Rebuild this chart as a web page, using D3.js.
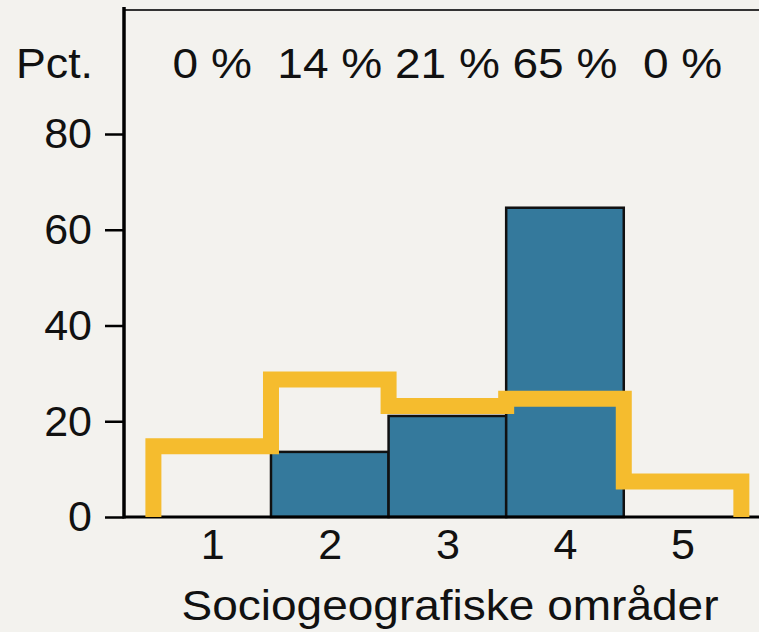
<!DOCTYPE html>
<html>
<head>
<meta charset="utf-8">
<script src="https://cdn.jsdelivr.net/npm/d3@7"></script>
<style>
  html, body { margin: 0; padding: 0; background: #f3f2ee; }
  svg { display: block; font-family: "Liberation Sans", Arial, Helvetica, sans-serif; }
</style>
</head>
<body>
<div id="chart"></div>
<script>
// data
const areas = [1, 2, 3, 4, 5];
const sharePct = [0, 13.6, 21.1, 64.6, 0];      // blue bars
const shareLabels = ["0 %", "14 %", "21 %", "65 %", "0 %"];
const refLevels = [14.8, 28.7, 23.2, 24.7, 7.4]; // yellow step line
const yTicks = [0, 20, 40, 60, 80];

const width = 759, height = 632;
const plotLeft = 124, plotBottom = 517, plotTop = 134;

const svg = d3.select('#chart').append('svg')
    .attr('width', width)
    .attr('height', height);

const xScale = d3.scaleLinear()
    .domain([0.25, 5.65])
    .range([plotLeft, width]);

const yScale = d3.scaleLinear()
    .domain([0, 80])
    .range([plotBottom, plotTop]);

const barW = xScale(1.5) - xScale(0.5);

// bars
svg.append('g').selectAll('rect')
    .data(areas.filter((d, i) => sharePct[i] > 0))
    .join('rect')
    .attr('x', d => xScale(d - 0.5))
    .attr('width', barW)
    .attr('y', d => yScale(sharePct[d - 1]))
    .attr('height', d => yScale(0) - yScale(sharePct[d - 1]))
    .attr('fill', '#34799c')
    .attr('stroke', '#111')
    .attr('stroke-width', 2.5);

// frame: top line, y axis line, baseline
svg.append('line')
    .attr('x1', plotLeft).attr('x2', width)
    .attr('y1', 10).attr('y2', 10)
    .attr('stroke', '#333').attr('stroke-width', 2);

svg.append('line')
    .attr('x1', plotLeft).attr('x2', plotLeft)
    .attr('y1', 7).attr('y2', plotBottom + 1.5)
    .attr('stroke', '#000').attr('stroke-width', 3.5);

svg.append('line')
    .attr('x1', plotLeft).attr('x2', width)
    .attr('y1', plotBottom).attr('y2', plotBottom)
    .attr('stroke', '#000').attr('stroke-width', 3);

// axes
const yAxis = d3.axisLeft(yScale)
    .tickValues(yTicks)
    .tickSize(19)
    .tickPadding(13);

const yAxisGroup = svg.append('g')
    .attr('class', 'axis y-axis')
    .attr('transform', 'translate(' + plotLeft + ',0)')
    .call(yAxis);

const xAxis = d3.axisBottom(xScale)
    .tickValues(areas)
    .tickFormat(d3.format('d'))
    .tickSize(0)
    .tickPadding(11);

const xAxisGroup = svg.append('g')
    .attr('class', 'axis x-axis')
    .attr('transform', 'translate(0,' + plotBottom + ')')
    .call(xAxis);

svg.selectAll('.axis .domain').remove();
svg.selectAll('.axis line').attr('stroke', '#000').attr('stroke-width', 2.5);
svg.selectAll('.axis').attr('font-family', null).attr('font-size', null);
svg.selectAll('.axis text')
    .attr('font-size', 43)
    .attr('fill', '#111');

// yellow step line
const stepPts = [[0.5, 0]]
    .concat(refLevels.map((v, i) => [areas[i] - 0.5, v]))
    .concat([[5.5, 0]]);

const line = d3.line()
    .x(d => xScale(d[0]))
    .y(d => yScale(d[1]))
    .curve(d3.curveStepAfter);

svg.append('path')
    .datum(stepPts)
    .attr('d', line)
    .attr('fill', 'none')
    .attr('stroke', '#f5bc2e')
    .attr('stroke-width', 16)
    .attr('stroke-linejoin', 'miter');

// labels (the reference type is a bit wider than Liberation Sans)
function widen(sel, k) {
    sel.each(function() {
        const w = this.getComputedTextLength();
        d3.select(this)
            .attr('textLength', w * k)
            .attr('lengthAdjust', 'spacingAndGlyphs');
    });
}

svg.append('g').selectAll('text')
    .data(areas)
    .join('text')
    .attr('x', d => xScale(d))
    .attr('y', 78)
    .attr('text-anchor', 'middle')
    .attr('font-size', 43)
    .attr('fill', '#111')
    .text((d, i) => shareLabels[i])
    .call(widen, 1.07);

svg.append('text')
    .attr('x', 93).attr('y', 78)
    .attr('text-anchor', 'end')
    .attr('font-size', 43)
    .attr('fill', '#111')
    .text('Pct.')
    .call(widen, 1.04);

svg.append('text')
    .attr('x', 450).attr('y', 620)
    .attr('text-anchor', 'middle')
    .attr('font-size', 43)
    .attr('fill', '#111')
    .text('Sociogeografiske områder')
    .call(widen, 1.07);
</script>
</body>
</html>
